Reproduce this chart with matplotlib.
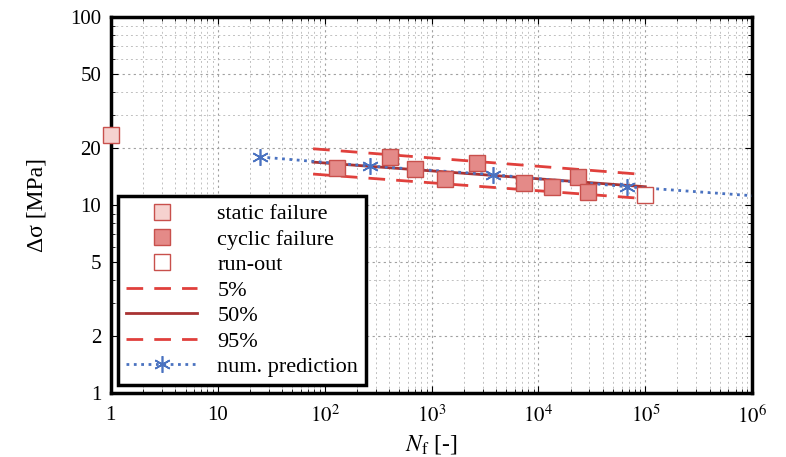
import matplotlib.pyplot as plt
import numpy as np

plt.rcParams['font.family'] = 'Liberation Serif'
plt.rcParams['mathtext.fontset'] = 'stix'

static_N = [1]
static_s = [23.6]

cyclic_N = [131, 409, 702, 1341, 2673, 7364, 13460, 23600, 29250]
cyclic_s = [15.7, 18.0, 15.5, 13.7, 16.7, 13.1, 12.5, 14.1, 11.7]

runout_N = [1e5]
runout_s = [11.3]

band_N = [78, 1e5]
p5_s = [19.9, 14.5]
p50_s = [16.9, 12.5]
p95_s = [14.6, 10.8]

pred_N = [24.9, 266, 3776, 67800]
pred_s = [18.0, 16.1, 14.5, 12.5]
pred_line_N = [24.9, 266, 3776, 67800, 1e6]
pred_line_s = [18.0, 16.1, 14.5, 12.5, 11.2]

fig = plt.figure(figsize=(7.86, 4.57), dpi=100)
ax = fig.add_axes([0.141, 0.140, 0.816, 0.823])
ax.set_xscale('log')
ax.set_yscale('log')
ax.set_xlim(1, 1e6)
ax.set_ylim(1, 100)

red = '#e0403c'
dark = '#a83232'
blue = '#4a72c0'

ax.plot(band_N, p5_s, '--', color=red, lw=2, dashes=(6, 4), label='5%', zorder=3)
ax.plot(band_N, p50_s, '-', color=dark, lw=2, label='50%', zorder=3)
ax.plot(band_N, p95_s, '--', color=red, lw=2, dashes=(6, 4), label='95%', zorder=3)
ax.plot(pred_line_N, pred_line_s, ':', color=blue, lw=2, zorder=4)

ax.plot(static_N, static_s, 's', ms=11, mfc='#f6d2cf', mec='#c8504c', mew=1,
        clip_on=False, zorder=5, label='static failure')
ax.plot(cyclic_N, cyclic_s, 's', ms=11, mfc='#e48a88', mec='#c8504c', mew=1,
        zorder=5, label='cyclic failure')
ax.plot(runout_N, runout_s, 's', ms=11, mfc='white', mec='#c8504c', mew=1,
        zorder=5, label='run-out')
ax.plot(pred_N, pred_s, ls='none', marker=(6, 2, 0), ms=12, color=blue,
        mew=1.2, zorder=6)

# legend proxy for prediction line with marker
pred_handle, = ax.plot([], [], ':', color=blue, lw=2, marker=(6, 2, 0),
                       ms=12, mew=1.2)

handles, labels = ax.get_legend_handles_labels()
order = ['static failure', 'cyclic failure', 'run-out', '5%', '50%', '95%']
hl = dict(zip(labels, handles))
leg = ax.legend([hl[k] for k in order] + [pred_handle],
                order + ['num. prediction'],
                loc='lower left', fontsize=16, frameon=True, fancybox=False,
                handlelength=3.2, labelspacing=0.22,
                handletextpad=0.9, borderpad=0.35,
                bbox_to_anchor=(0.005, 0.01), borderaxespad=0.2)
leg.get_frame().set_edgecolor('black')
leg.get_frame().set_linewidth(2.5)
leg.get_frame().set_alpha(1)
leg.set_zorder(10)

ax.grid(True, which='major', ls=(0, (2, 3)), color='#a0a0a0', lw=0.8)
ax.grid(True, which='minor', ls=(0, (2, 3)), color='#c0c0c0', lw=0.7)

xt = [1, 10, 1e2, 1e3, 1e4, 1e5, 1e6]
xt_lab = ['1', '10', r'$10^2$', r'$10^3$', r'$10^4$', r'$10^5$', r'$10^6$']
ax.set_xticks(xt)
ax.set_xticklabels(xt_lab)
yt = [1, 2, 5, 10, 20, 50, 100]
ax.set_yticks(yt)
ax.set_yticklabels([str(v) for v in yt])

ax.tick_params(which='both', direction='in', labelsize=15, top=True, right=True)
ax.tick_params(axis='x', which='major', pad=9)
ax.tick_params(axis='y', which='major', pad=7)
ax.tick_params(which='major', length=5)
ax.tick_params(which='minor', length=3)
for s in ax.spines.values():
    s.set_linewidth(2.5)

ax.set_xlabel(r'$N_\mathrm{f}$ [-]', fontsize=17, labelpad=4)
ax.set_ylabel('Δσ [MPa]', fontsize=17, labelpad=16)

fig.savefig('out.png', dpi=100)
